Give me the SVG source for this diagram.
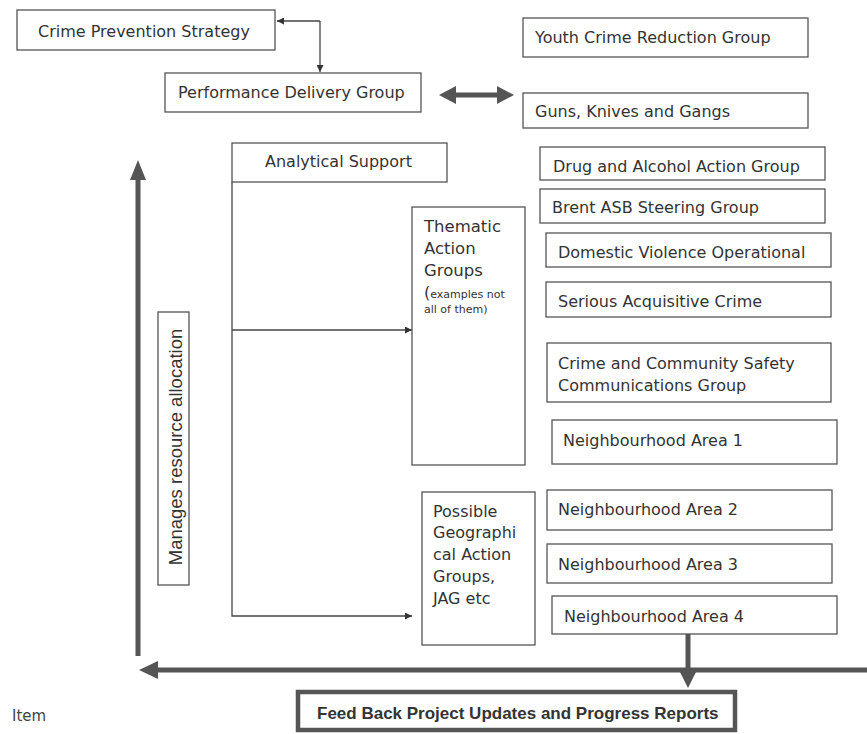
<svg xmlns="http://www.w3.org/2000/svg" width="867" height="734" viewBox="0 0 867 734">
<style>
.b{fill:#fff;stroke:#555;stroke-width:1.3}
.t{font-family:"DejaVu Sans",sans-serif;font-size:16px;fill:#333}
.th{stroke:#555;stroke-width:5;fill:none}
.thin{stroke:#444;stroke-width:1.3;fill:none}
.hd{fill:#555}
</style>
<defs>
<marker id="a" viewBox="0 0 10 10" refX="10" refY="5" markerWidth="7" markerHeight="7" markerUnits="userSpaceOnUse" orient="auto"><path d="M0,0L10,5L0,10z" fill="#333"/></marker>
</defs>
<rect width="867" height="734" fill="#fff"/>
<g id="connectors">
<path class="thin" d="M320,21H277" marker-end="url(#a)"/>
<path class="thin" d="M320,21V72" marker-end="url(#a)"/>
<path class="thin" d="M232,182V616H412" marker-end="url(#a)"/>
<path class="thin" d="M232,330H412" marker-end="url(#a)"/>
<path class="th" d="M454,95H498"/>
<polygon class="hd" points="439,95 456,86 456,104"/>
<polygon class="hd" points="514,95 497,86 497,104"/>
<path class="th" d="M138,656V176"/>
<polygon class="hd" points="138,160 130,180 146,180"/>
<path class="th" d="M867,670H155"/>
<polygon class="hd" points="139,670 158,661 158,679"/>
<path class="th" d="M688,634V673"/>
<polygon class="hd" points="688,688 679,670 697,670"/>
</g>
<g id="crime-prevention"><rect class="b" x="17" y="10" width="258" height="40"/><text class="t" x="38" y="37">Crime Prevention Strategy</text></g>
<g id="performance"><rect class="b" x="165" y="73" width="256" height="39"/><text class="t" x="178" y="98">Performance Delivery Group</text></g>
<g id="analytical"><rect class="b" x="232" y="143" width="215" height="39"/><text class="t" x="265" y="167">Analytical Support</text></g>
<g id="youth"><rect class="b" x="523" y="18" width="285" height="39"/><text class="t" x="535" y="43">Youth Crime Reduction Group</text></g>
<g id="guns"><rect class="b" x="523" y="93" width="285" height="35"/><text class="t" x="535" y="117">Guns, Knives and Gangs</text></g>
<g id="drug"><rect class="b" x="540" y="147" width="285" height="33"/><text class="t" x="553" y="172">Drug and Alcohol Action Group</text></g>
<g id="brent"><rect class="b" x="540" y="189" width="285" height="34"/><text class="t" x="552" y="213">Brent ASB Steering Group</text></g>
<g id="thematic"><rect class="b" x="412" y="207" width="113" height="258"/>
<text class="t" style="font-size:16.5px" x="424" y="232">Thematic</text>
<text class="t" style="font-size:16.5px" x="424" y="254">Action</text>
<text class="t" style="font-size:16.5px" x="424" y="276">Groups</text>
<text class="t" style="font-size:11px" x="424" y="298"><tspan style="font-size:16px">(</tspan>examples not</text>
<text class="t" style="font-size:11px" x="424" y="313">all of them)</text></g>
<g id="domestic"><rect class="b" x="546" y="233" width="285" height="34"/><text class="t" x="558" y="258">Domestic Violence Operational</text></g>
<g id="serious"><rect class="b" x="546" y="282" width="285" height="35"/><text class="t" x="558" y="307">Serious Acquisitive Crime</text></g>
<g id="community"><rect class="b" x="547" y="343" width="284" height="59"/><text class="t" x="558" y="369">Crime and Community Safety</text><text class="t" x="558" y="391">Communications Group</text></g>
<g id="area1"><rect class="b" x="552" y="420" width="285" height="44"/><text class="t" x="563" y="446">Neighbourhood Area 1</text></g>
<g id="manages"><rect class="b" x="158" y="312" width="31" height="273"/><text transform="translate(182,447) rotate(-90)" text-anchor="middle" style="font-family:'Liberation Sans',Arial,sans-serif;font-size:18.5px;fill:#333">Manages resource allocation</text></g>
<g id="possible"><rect class="b" x="422" y="492" width="113" height="153"/>
<text class="t" x="433" y="517">Possible</text>
<text class="t" x="433" y="538">Geographi</text>
<text class="t" x="433" y="560">cal Action</text>
<text class="t" x="433" y="582">Groups,</text>
<text class="t" x="433" y="604">JAG etc</text></g>
<g id="area2"><rect class="b" x="547" y="490" width="285" height="40"/><text class="t" x="558" y="515">Neighbourhood Area 2</text></g>
<g id="area3"><rect class="b" x="547" y="544" width="285" height="39"/><text class="t" x="558" y="570">Neighbourhood Area 3</text></g>
<g id="area4"><rect class="b" x="552" y="596" width="285" height="38"/><text class="t" x="564" y="622">Neighbourhood Area 4</text></g>
<g id="feedback"><rect x="298" y="692" width="437" height="38" fill="#fff" stroke="#555" stroke-width="4.5"/><text x="317" y="719" style="font-family:'Liberation Sans',Arial,sans-serif;font-weight:bold;font-size:17px;fill:#333">Feed Back Project Updates and Progress Reports</text></g>
<text x="12" y="721" style="font-family:'DejaVu Sans',sans-serif;font-size:15px;fill:#444">Item</text>
</svg>
